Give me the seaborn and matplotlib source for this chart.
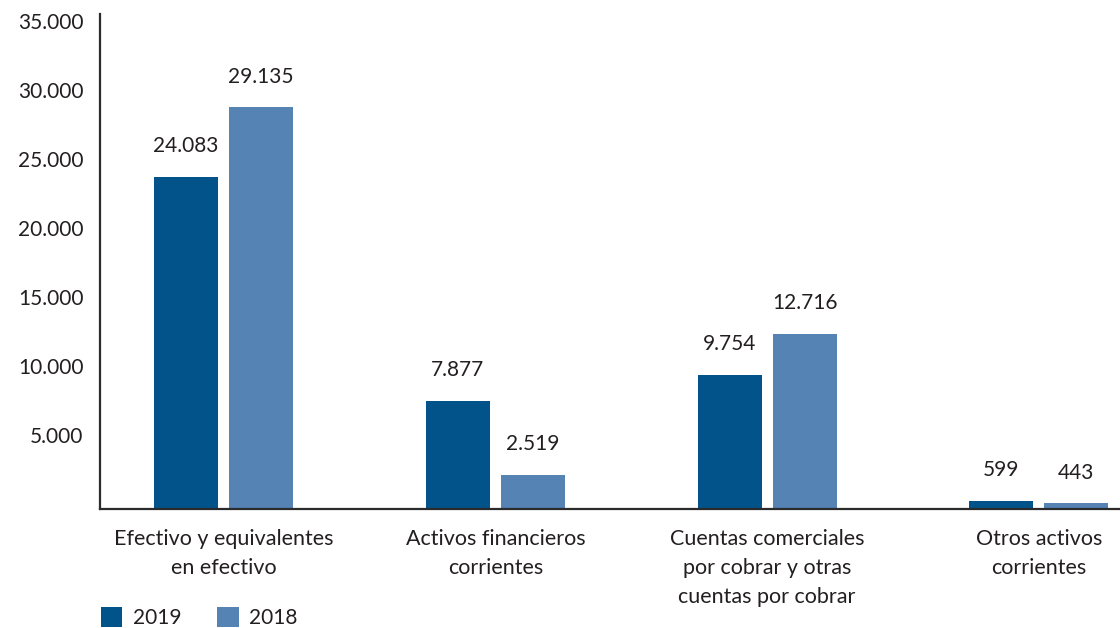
import pandas as pd
import matplotlib.pyplot as plt
import matplotlib.transforms as mtransforms
from matplotlib.patches import Patch
import seaborn as sns

categorias = ["Efectivo y equivalentes\nen efectivo",
              "Activos financieros\ncorrientes",
              "Cuentas comerciales\npor cobrar y otras\ncuentas por cobrar",
              "Otros activos\ncorrientes"]
valores_2019 = [24083, 7877, 9754, 599]
valores_2018 = [29135, 2519, 12716, 443]
anios = ["2019", "2018"]
colores = ["#02538A", "#5483B4"]
yticks = [5000, 10000, 15000, 20000, 25000, 30000, 35000]
ytick_labels = ["5.000", "10.000", "15.000", "20.000", "25.000", "30.000", "35.000"]

df = pd.DataFrame({
    "categoria": categorias * 2,
    "anio": [anios[0]] * 4 + [anios[1]] * 4,
    "valor": valores_2019 + valores_2018,
})

sns.set_style("white")
plt.rcParams['font.family'] = ['Lato', 'DejaVu Sans']
texto = "#231f20"

fig = plt.figure(figsize=(11.2, 6.28), dpi=100)
ax = fig.add_axes([100 / 1120, 0.1887, 1 - 100 / 1120, 0.9777 - 0.1887])

sns.barplot(data=df, x="categoria", y="valor", hue="anio", hue_order=anios,
            palette=colores, saturation=1, width=0.552, gap=0.147,
            linewidth=0, ax=ax)
ax.get_legend().remove()

# etiquetas de valor encima de cada barra
for cont, vals in zip(ax.containers, [valores_2019, valores_2018]):
    ax.bar_label(cont, labels=[f"{v:,}".replace(",", ".") for v in vals],
                 padding=15, fontsize=15, color=texto)

ax.set_xlim(-0.455, 3.299)
ax.set_ylim(0, 35900)
ax.set_yticks(yticks)
ax.set_yticklabels(ytick_labels)
ax.set_xlabel("")
ax.set_ylabel("")
ax.tick_params(axis="y", length=0, pad=12, labelsize=15, labelcolor=texto)
ax.tick_params(axis="x", length=0, pad=14, labelsize=15.5, labelcolor=texto)
for lab in ax.get_xticklabels():
    lab.set_linespacing(1.55)
desplaza = mtransforms.ScaledTranslation(0, 5 / 100, fig.dpi_scale_trans)
for lab in ax.get_yticklabels():
    lab.set_transform(lab.get_transform() + desplaza)

sns.despine(ax=ax, top=True, right=True)
for lado in ["left", "bottom"]:
    ax.spines[lado].set_color("#2b2b2b")
    ax.spines[lado].set_linewidth(1.6)

handles = [Patch(facecolor=c, edgecolor="none") for c in colores]
fig.legend(handles, anios, loc="lower left", bbox_to_anchor=(0.073, -0.03),
           ncol=2, frameon=False, fontsize=15, handlelength=1.05, handleheight=1.05,
           handletextpad=0.5, columnspacing=1.7, labelcolor=texto)

plt.savefig("out.png", dpi=100)
